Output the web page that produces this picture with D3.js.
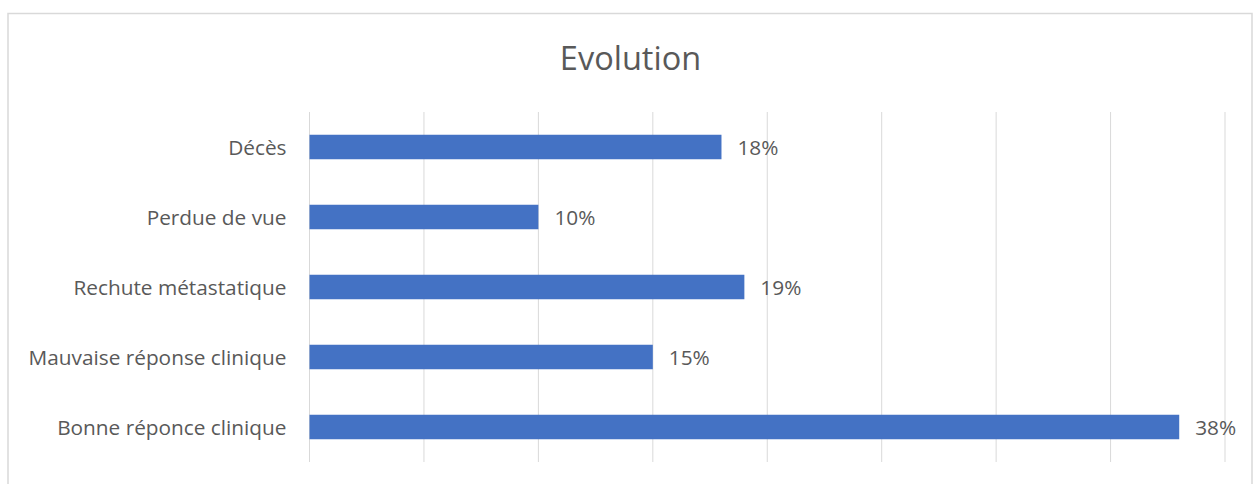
<!DOCTYPE html>
<html>
<head>
<meta charset="utf-8">
<script src="https://cdn.jsdelivr.net/npm/d3@7"></script>
<style>
  html, body { margin: 0; padding: 0; background: #fff; }
  svg { display: block; }
  text { font-family: "Open Sans", "Noto Sans", sans-serif; fill: #595959; }
</style>
</head>
<body>
<script>
// Outcome categories (top to bottom) and their shares in percent
const categories = ["Décès", "Perdue de vue", "Rechute métastatique", "Mauvaise réponse clinique", "Bonne réponce clinique"];
const values = [18, 10, 19, 15, 38];
const gridTicks = [0, 5, 10, 15, 20, 25, 30, 35, 40];
const title = "Evolution";

const W = 1255, H = 484;
const svg = d3.select("body").append("svg").attr("width", W).attr("height", H);

// chart frame
svg.append("rect")
  .attr("x", 8).attr("y", 13.5).attr("width", 1244).attr("height", 490)
  .attr("fill", "#fff").attr("stroke", "#d9d9d9").attr("stroke-width", 1.5);

const plot = { left: 309.5, right: 1225, top: 112, bottom: 462 };

const x = d3.scaleLinear().domain([0, 40]).range([plot.left, plot.right]);
const y = d3.scaleBand().domain(categories).range([plot.top, plot.bottom]).paddingInner(0.65).paddingOuter(0.325);

// vertical gridlines
svg.append("g")
  .selectAll("line").data(gridTicks).join("line")
  .attr("x1", d => x(d)).attr("x2", d => x(d))
  .attr("y1", plot.top).attr("y2", plot.bottom)
  .attr("stroke", "#d9d9d9").attr("stroke-width", 1);

// bars
svg.append("g")
  .selectAll("rect").data(categories).join("rect")
  .attr("x", x(0))
  .attr("y", d => y(d))
  .attr("width", (d, i) => x(values[i]) - x(0))
  .attr("height", y.bandwidth())
  .attr("fill", "#4472c4");

// category axis labels
const yAxis = d3.axisLeft(y).tickSize(0).tickPadding(23);
const ga = svg.append("g").attr("transform", `translate(${plot.left},0)`).call(yAxis);
ga.select(".domain").remove();
ga.selectAll("text")
  .style("font-family", '"Open Sans", "Noto Sans", sans-serif')
  .style("font-size", "20.8px").attr("fill", "#595959")
  .attr("dy", "0.38em");

// value labels
svg.append("g")
  .selectAll("text").data(categories).join("text")
  .attr("x", (d, i) => x(values[i]) + 16)
  .attr("y", d => y(d) + y.bandwidth() / 2)
  .attr("dy", "0.38em")
  .style("font-size", "20.8px")
  .text((d, i) => values[i] + "%");

// title
svg.append("text")
  .attr("x", 630.5).attr("y", 70)
  .attr("text-anchor", "middle")
  .style("font-size", "32.5px")
  .text(title);
</script>
</body>
</html>
